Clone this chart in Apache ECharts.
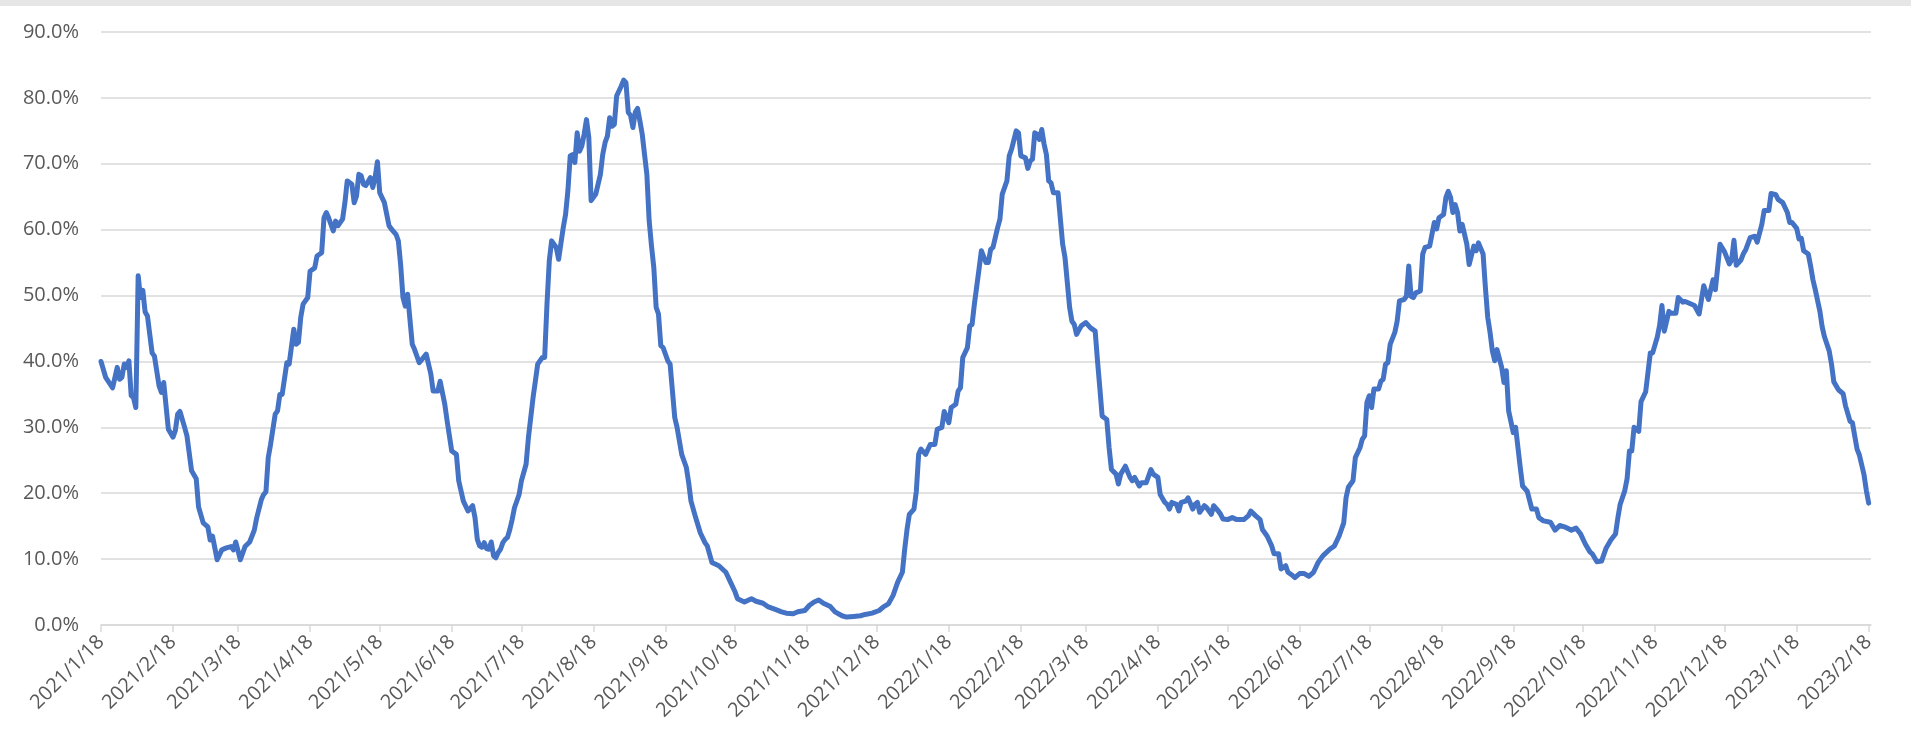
<!DOCTYPE html>
<html><head><meta charset="utf-8">
<script src="https://cdn.jsdelivr.net/npm/echarts@6/dist/echarts.min.js"></script>
<style>html,body{margin:0;padding:0;background:#fff}#c{width:1911px;height:750px}</style>
</head><body><div id="c"></div>
<script>
const startDate = '2021-01-18';
const axisEndOffset = 762;
const dayOffsets = [0,2,5,7,8,9,10,11,12,13,14,15,16,17,18,19,20,22,23,25,26,27,29,31,32,33,34,36,37,39,41,42,44,46,47,48,50,52,54,56,57,58,60,62,64,66,67,69,70,71,72,73,75,76,77,78,80,81,83,84,85,86,87,89,90,92,93,95,96,97,98,100,101,102,104,105,106,108,109,110,111,112,113,114,116,117,118,119,120,122,124,125,127,128,129,130,131,132,134,135,137,140,142,143,145,146,148,149,151,153,154,156,158,160,161,162,163,164,165,166,167,168,169,170,171,172,173,174,175,176,177,178,180,181,183,184,186,187,188,190,191,192,193,194,196,197,199,200,201,202,203,204,205,206,207,208,209,210,211,213,215,216,217,218,219,220,221,222,224,225,226,227,228,229,230,231,232,233,234,235,236,237,238,239,240,241,242,244,245,247,248,250,252,253,254,256,258,260,261,263,266,269,271,273,274,277,280,282,285,287,290,293,295,298,300,303,305,307,309,311,314,316,319,321,324,327,329,332,335,337,339,341,343,345,346,347,348,350,351,352,353,355,357,359,360,362,363,365,366,368,369,370,371,373,374,375,376,378,379,381,382,383,384,386,387,388,390,391,392,394,395,396,398,399,400,401,402,403,404,405,406,407,408,409,410,412,414,415,417,418,419,420,422,424,426,428,429,430,431,433,434,435,437,438,439,441,443,444,445,447,448,450,452,453,455,456,458,459,460,461,463,464,465,467,468,470,471,472,473,475,476,478,479,481,482,483,485,487,489,492,494,495,497,499,500,502,504,505,507,508,510,511,513,514,516,518,520,522,524,526,529,531,533,534,535,536,537,539,540,542,543,544,545,546,547,548,550,551,552,553,554,555,557,558,559,561,562,563,564,565,566,568,569,570,572,573,574,575,576,578,579,580,581,582,583,584,585,586,588,589,591,592,593,595,596,597,598,599,600,601,603,604,605,606,608,609,611,612,614,616,618,619,621,624,626,628,630,633,635,637,639,641,642,644,646,648,650,652,653,654,656,657,658,659,660,662,663,665,667,668,670,671,672,673,675,676,678,679,681,682,684,686,688,690,692,694,695,697,699,701,702,703,704,706,707,708,710,712,713,715,716,718,719,721,722,724,726,727,728,730,731,732,733,735,736,737,738,740,741,742,744,745,746,748,750,751,753,754,756,757,759,760,761];
const values = [40.0,37.6,36.0,39.1,37.3,37.6,39.6,39.1,40.1,34.8,34.5,33.0,53.0,49.7,50.8,47.5,46.9,41.3,40.8,36.3,35.3,36.8,29.7,28.5,29.5,32.0,32.4,30.0,28.7,23.4,22.2,17.9,15.5,14.9,12.9,13.5,9.9,11.4,11.7,11.9,11.4,12.6,9.9,11.9,12.6,14.4,16.2,19.0,19.8,20.2,25.4,27.4,32.0,32.5,35.0,35.0,39.8,39.6,44.9,42.6,42.9,46.7,48.7,49.7,53.7,54.2,56.0,56.5,61.8,62.6,61.8,59.8,61.3,60.6,61.6,64.1,67.4,66.9,64.1,65.1,68.4,68.2,66.9,66.7,67.9,66.4,67.9,70.3,65.6,64.1,60.6,60.1,59.3,58.3,54.7,49.7,48.4,50.2,42.6,41.8,39.8,41.1,38.1,35.5,35.5,37.0,33.5,31.0,26.4,25.9,21.9,18.8,17.3,18.1,16.3,13.0,12.0,11.8,12.5,11.6,11.5,12.6,10.5,10.2,11.0,11.5,12.5,13.0,13.3,14.5,16.0,17.8,19.8,21.9,24.4,28.4,34.5,37.0,39.6,40.6,40.6,48.7,55.3,58.3,57.3,55.5,60.3,62.3,65.9,71.2,71.4,70.2,74.7,71.9,72.7,74.5,76.7,74.0,64.4,65.4,68.4,71.4,73.2,74.2,77.0,75.7,76.0,80.3,81.8,82.7,82.3,77.8,77.3,75.5,77.8,78.4,76.5,74.5,71.4,68.4,61.3,57.5,54.2,48.2,47.2,42.4,42.1,40.1,39.6,31.5,30.0,25.9,23.9,21.6,18.8,16.3,14.0,12.5,12.0,9.5,9.0,8.0,6.5,5.0,4.0,3.5,4.0,3.6,3.3,2.8,2.4,2.0,1.8,1.7,2.0,2.2,3.0,3.5,3.8,3.3,2.8,2.0,1.4,1.2,1.3,1.4,1.6,1.8,2.2,2.8,3.2,4.5,6.5,8.0,11.5,14.5,16.8,17.6,20.3,25.9,26.7,25.9,27.4,27.4,29.7,30.0,32.4,30.7,33.0,33.5,35.5,36.0,40.6,42.1,45.4,45.6,48.7,54.0,56.8,55.0,55.0,57.0,57.3,60.3,61.6,65.4,67.4,71.2,72.2,75.0,74.7,71.2,70.9,69.3,70.4,70.7,74.7,74.5,73.7,75.2,73.0,71.4,67.4,67.1,65.6,65.6,57.8,55.8,48.2,46.1,45.6,44.1,45.4,45.9,45.1,44.6,40.1,36.0,31.7,31.2,26.9,23.6,22.9,21.4,22.9,24.1,22.4,21.9,22.4,21.1,21.6,21.6,23.6,22.9,22.4,19.8,18.6,18.3,17.6,18.6,18.3,17.3,18.6,18.8,19.3,17.6,18.3,18.6,17.1,18.1,17.8,16.8,18.1,17.3,16.8,16.1,16.0,16.3,16.0,16.0,16.6,17.3,16.6,16.0,14.5,13.5,12.0,10.8,10.8,8.5,9.0,8.0,7.5,7.2,7.8,7.8,7.4,8.0,9.5,10.5,11.5,12.0,13.5,14.5,15.5,19.3,20.9,21.9,25.4,26.9,28.2,28.7,33.8,34.8,33.0,35.8,35.8,37.0,37.3,39.6,39.8,42.6,44.4,46.1,49.2,49.4,49.9,54.5,49.9,49.7,50.4,50.7,56.3,57.3,57.5,59.3,61.1,60.1,61.8,62.3,64.9,65.8,64.9,62.6,63.8,62.6,59.8,60.8,57.8,54.7,57.5,56.8,58.0,56.3,51.2,46.7,44.4,41.6,40.1,41.8,39.1,36.8,38.6,32.5,29.2,30.0,23.9,21.1,20.3,17.6,17.6,16.3,15.8,15.6,14.4,15.1,14.9,14.4,14.7,13.8,12.3,11.1,10.8,9.6,9.7,11.7,12.9,13.8,16.2,18.3,20.4,22.2,26.4,26.4,30.0,29.4,33.9,35.4,41.3,41.3,43.7,45.5,48.5,44.6,47.6,47.3,47.3,49.7,49.0,49.1,48.8,48.5,47.2,51.5,49.4,52.4,50.9,57.8,56.6,54.8,55.4,58.4,54.6,55.4,56.3,56.9,58.8,59.0,58.1,60.8,62.9,62.9,65.5,65.3,64.6,64.1,62.6,61.1,61.1,60.2,58.6,58.7,56.8,56.3,54.5,52.4,50.9,47.6,45.2,43.7,41.6,39.6,36.9,35.7,35.1,33.3,30.9,30.7,26.7,25.8,22.8,20.4,18.5];
const tickLabels = ['2021/1/18','2021/2/18','2021/3/18','2021/4/18','2021/5/18','2021/6/18','2021/7/18','2021/8/18','2021/9/18','2021/10/18','2021/11/18','2021/12/18','2022/1/18','2022/2/18','2022/3/18','2022/4/18','2022/5/18','2022/6/18','2022/7/18','2022/8/18','2022/9/18','2022/10/18','2022/11/18','2022/12/18','2023/1/18','2023/2/18'];

function dateTs(str){ const p = str.split(/[\/-]/).map(Number); return new Date(p[0], p[1]-1, p[2]).getTime(); }
function offsetTs(off){ const p = startDate.split('-').map(Number); return new Date(p[0], p[1]-1, p[2]+off).getTime(); }

const seriesData = dayOffsets.map((d,i) => [offsetTs(d), values[i]]);
const tickTs = tickLabels.map(dateTs);
const FONT = '"Open Sans", "Liberation Sans", sans-serif';

const chart = echarts.init(document.getElementById('c'), null, {renderer:'canvas'});
chart.setOption({
  animation: false,
  backgroundColor: '#ffffff',
  graphic: [{type:'rect', left:0, top:0, shape:{width:1911, height:6}, style:{fill:'#e6e6e6'}, silent:true}],
  grid: {left:101, right:40, top:32, bottom:125, containLabel:false},
  xAxis: {
    type: 'value',
    min: offsetTs(0),
    max: offsetTs(axisEndOffset),
    axisLine: {show:true, lineStyle:{color:'#d9d9d9', width:1.5}},
    axisTick: {show:true, customValues: tickTs, length:7, lineStyle:{color:'#d9d9d9', width:1.5}},
    splitLine: {show:false},
    axisLabel: {
      customValues: tickTs,
      rotate: 45,
      margin: 14,
      color: '#595959',
      fontFamily: FONT,
      fontSize: 20,
      formatter: function(v){ const d = new Date(v); return d.getFullYear()+'/'+(d.getMonth()+1)+'/'+d.getDate(); }
    }
  },
  yAxis: {
    type: 'value',
    min: 0, max: 90, interval: 10,
    axisLine: {show:false},
    axisTick: {show:false},
    splitLine: {lineStyle:{color:'#d9d9d9', width:1.5}},
    axisLabel: {color:'#595959', fontFamily: FONT, fontSize: 20, margin: 22,
      formatter: v => v.toFixed(1) + '%'}
  },
  series: [{
    type: 'line',
    data: seriesData,
    showSymbol: false,
    symbol: 'none',
    lineStyle: {color:'#4472C4', width:5, join:'round', cap:'round'},
    itemStyle: {color:'#4472C4'}
  }]
});
</script>
</body></html>
